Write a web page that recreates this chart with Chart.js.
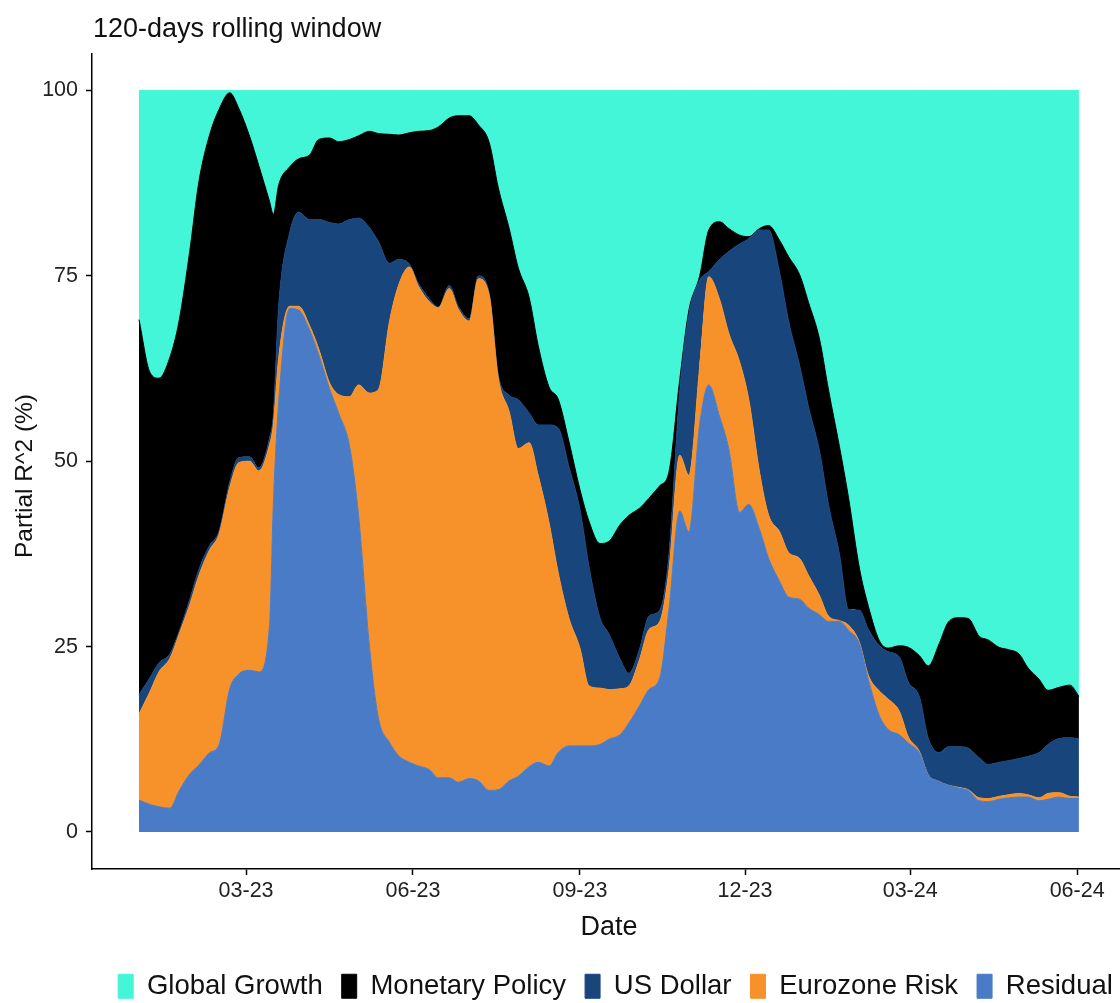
<!DOCTYPE html>
<html>
<head>
<meta charset="utf-8">
<script src="https://cdn.jsdelivr.net/npm/chart.js@4.4.1/dist/chart.umd.min.js"></script>
<style>
  html, body { margin: 0; padding: 0; background: #fff; overflow: hidden; }
  canvas { display: block; }
</style>
</head>
<body>
<canvas id="chart" width="1231" height="1010"></canvas>
<script>
// day offsets from 2023-01-01
const days = [0, 6, 11, 17, 22, 28, 33, 39, 44, 50, 55, 61, 66, 72, 74, 77, 83, 88, 94, 99,
  105, 110, 116, 121, 127, 132, 138, 143, 149, 154, 160, 165, 171, 176, 182, 187, 193, 198, 204, 209,
  215, 220, 226, 231, 237, 243, 248, 254, 259, 265, 270, 276, 281, 287, 292, 298, 303, 309, 314, 320,
  325, 331, 336, 342, 347, 353, 358, 364, 369, 375, 380, 386, 391, 397, 402, 408, 413, 419, 424, 430,
  435, 441, 446, 452, 457, 463, 468, 474, 479, 485, 490, 496, 501, 507, 513, 518];

// cumulative partial R^2 (%), stacked from the bottom layer up
const residual = [4.3, 3.7, 3.4, 3.2, 5.5, 7.8, 9.0, 10.7, 11.7, 19.3, 21.3, 21.8, 21.6, 28, 44, 58, 70.6, 70.4, 67.7, 64.4,
  59.8, 56.5, 52.1, 42.7, 25, 15.3, 12.1, 10.3, 9.4, 8.9, 8.4, 7.3, 7.3, 6.7, 7.2, 6.9, 5.6, 5.7, 6.9, 7.5,
  8.8, 9.4, 8.9, 10.7, 11.6, 11.6, 11.6, 11.8, 12.5, 13.1, 14.7, 17.1, 19.2, 20.8, 29.9, 43.3, 40.5, 55.0, 60.3, 56.0,
  51.7, 43.1, 44.2, 40.8, 36.9, 33.8, 31.7, 31.4, 30.2, 29.3, 28.4, 28.4, 27.2, 25.4, 20.5, 15.7, 13.8, 13.1, 12.0, 10.7,
  7.7, 6.8, 6.3, 5.9, 5.6, 4.2, 4.1, 4.4, 4.6, 4.7, 4.7, 4.2, 4.4, 4.7, 4.5, 4.5];
const eurozone = [15.9, 18.9, 21.6, 23.4, 26.6, 30.7, 34.6, 38.1, 40.1, 46.5, 49.8, 50.0, 48.7, 52.3, 54.9, 64, 70.9, 70.9, 68.3, 65.2,
  60.6, 59.0, 58.7, 60.3, 59.2, 59.7, 68.8, 73.7, 76.2, 73.6, 71.5, 70.7, 73.3, 70.5, 68.9, 74.6, 72.4, 61.2, 56.7, 51.7,
  52.5, 48.1, 41.7, 35.0, 28.8, 24.8, 19.7, 19.4, 19.2, 19.3, 19.7, 23.4, 27.3, 28.4, 35.2, 50.8, 48.1, 62.8, 74.9, 71.8,
  67.3, 63.4, 58.4, 48.5, 42.7, 40.5, 37.7, 36.9, 34.6, 31.9, 29.1, 28.5, 27.9, 25.6, 21.1, 19.0, 17.9, 16.3, 12.8, 10.9,
  7.7, 6.8, 6.3, 6.0, 5.7, 4.6, 4.5, 4.8, 5.0, 5.2, 5.0, 4.6, 5.2, 5.3, 4.8, 4.7];
const usDollar = [18.5, 20.8, 22.8, 24.0, 27.0, 31.4, 35.4, 38.7, 40.5, 47.2, 50.5, 50.6, 49.1, 53.2, 56.2, 71, 80.8, 83.6, 82.6, 82.6,
  82.2, 82.0, 82.6, 82.8, 81.5, 79.6, 76.7, 77.2, 76.6, 74.0, 71.9, 70.8, 73.7, 70.9, 69.2, 75.0, 72.7, 61.7, 58.9, 58.3,
  56.5, 54.9, 54.9, 54.5, 49.2, 43.5, 35.8, 28.9, 26.7, 23.4, 21.4, 24.8, 29.1, 29.9, 37.3, 59.4, 69.7, 74.4, 75.6, 77.2,
  78.3, 79.3, 80.0, 81.2, 81.2, 75.5, 68.9, 63.0, 57.3, 51.4, 44.1, 37.5, 30.0, 29.9, 27.3, 25.1, 24.3, 23.6, 20.2, 18.3,
  12.6, 10.7, 11.5, 11.5, 11.3, 10.0, 9.1, 9.4, 9.6, 9.9, 10.2, 10.7, 11.8, 12.6, 12.7, 12.6];
const monetary = [69.1, 62, 61.2, 64, 68.8, 78.4, 87.7, 94.1, 97.4, 99.7, 97.6, 93.8, 89.9, 85, 83.3, 87.3, 89.7, 90.8, 91.3, 93.4,
  93.6, 93.1, 93.4, 93.9, 94.5, 94.2, 94.1, 94.0, 94.3, 94.5, 94.6, 95.1, 96.3, 96.6, 96.6, 95.4, 93.0, 86.9, 81.4, 76.1,
  72.1, 65.6, 60.0, 58.4, 52.6, 46.2, 41.9, 38.9, 39.2, 41.4, 42.7, 43.7, 45.0, 46.7, 48.5, 61.0, 70.3, 75.0, 81.2, 82.3,
  81.4, 80.5, 80.3, 81.4, 81.8, 79.8, 77.6, 75.2, 71.4, 66.5, 59.6, 52.0, 45.1, 35.6, 30.4, 25.8, 24.8, 25.1, 24.9, 23.8,
  22.4, 25.4, 28.3, 28.9, 28.8, 26.4, 25.9, 24.9, 24.6, 24.0, 22.1, 20.6, 19.1, 19.5, 19.8, 18.3];
const fullShare = 100; // global growth closes the stack

const tickDays = [59, 151, 243, 334, 425, 517];
const tickLabels = ['03-23', '06-23', '09-23', '12-23', '03-24', '06-24'];

const titleText = '120-days rolling window';
const xTitle = 'Date';
const yTitle = 'Partial R^2 (%)';

const fontFamily = '"Liberation Sans", Arial, Helvetica, sans-serif';
Chart.defaults.font.family = fontFamily;
Chart.defaults.color = '#111';

const toPoints = (arr) => days.map((d, i) => ({ x: d, y: arr[i] }));

const layers = [
  { label: 'Residual', data: residual, color: '#4A7BC6', fill: 'origin' },
  { label: 'Eurozone Risk', data: eurozone, color: '#F7922B', fill: '-1' },
  { label: 'US Dollar', data: usDollar, color: '#17457C', fill: '-1' },
  { label: 'Monetary Policy', data: monetary, color: '#000000', fill: '-1' },
  { label: 'Global Growth', data: days.map(() => fullShare), color: '#43F6D7', fill: '-1' }
];

// plot title and both axis titles
const extraText = {
  id: 'extraText',
  afterDraw(chart) {
    const { ctx } = chart;
    ctx.save();
    ctx.fillStyle = '#111';
    ctx.font = '27px ' + fontFamily;
    ctx.textBaseline = 'alphabetic';
    ctx.textAlign = 'left';
    ctx.fillText(titleText, 93, 37);
    ctx.textAlign = 'center';
    ctx.fillText(xTitle, 609, 935);
    ctx.translate(25, 476);
    ctx.rotate(-Math.PI / 2);
    ctx.font = '24.5px ' + fontFamily;
    ctx.textBaseline = 'middle';
    ctx.fillText(yTitle, 0, 0);
    ctx.restore();
  }
};

const chart = new Chart(document.getElementById('chart'), {
  type: 'line',
  data: {
    datasets: layers.map(l => ({
      label: l.label,
      data: toPoints(l.data),
      backgroundColor: l.color,
      borderColor: l.color,
      borderWidth: 1,
      pointRadius: 0,
      fill: l.fill,
      cubicInterpolationMode: 'monotone'
    }))
  },
  options: {
    responsive: false,
    animation: false,
    layout: { padding: { top: 53.5, left: 0, right: 0, bottom: 0 } },
    scales: {
      x: {
        type: 'linear',
        min: -25.9,
        max: 601.8,
        afterBuildTicks: (scale) => { scale.ticks = tickDays.map(v => ({ value: v })); },
        afterFit: (scale) => { scale.height = 84.5; },
        ticks: {
          callback: (value, index) => tickLabels[index],
          font: { size: 21.5 },
          color: '#222',
          padding: 3,
          maxRotation: 0,
          autoSkip: false
        },
        grid: { drawOnChartArea: false, drawTicks: true, tickLength: 6, tickColor: '#000', tickWidth: 1.5 },
        border: { display: true, color: '#000', width: 1.5 }
      },
      y: {
        type: 'linear',
        min: -5,
        max: 105,
        afterBuildTicks: (scale) => { scale.ticks = [0, 25, 50, 75, 100].map(v => ({ value: v })); },
        afterFit: (scale) => { scale.width = 92; },
        ticks: { font: { size: 21.5 }, color: '#222', padding: 8 },
        grid: { drawOnChartArea: false, drawTicks: true, tickLength: 6, tickColor: '#000', tickWidth: 1.5 },
        border: { display: true, color: '#000', width: 1.5 }
      }
    },
    plugins: {
      legend: {
        position: 'bottom',
        reverse: true,
        labels: {
          boxWidth: 15,
          boxHeight: 24,
          padding: 19,
          color: '#111',
          font: { size: 27.5 }
        }
      },
      tooltip: { enabled: false }
    }
  },
  plugins: [extraText]
});
</script>
</body>
</html>
